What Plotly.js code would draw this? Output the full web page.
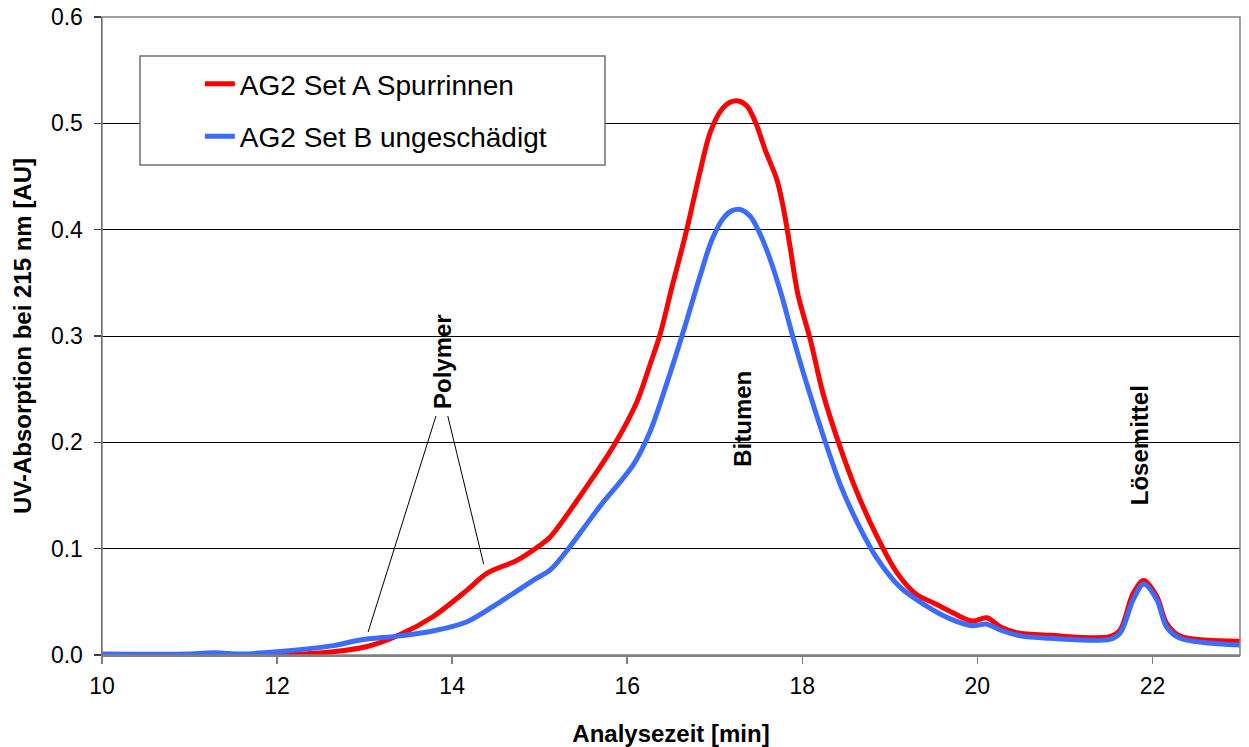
<!DOCTYPE html>
<html>
<head>
<meta charset="utf-8">
<script src="https://cdn.plot.ly/plotly-3.0.1.min.js"></script>
<style>html,body{margin:0;padding:0;background:#fff;}#chart{width:1249px;height:747px;}</style>
</head>
<body>
<div id="chart"></div>
<script>
// Series A (red): AG2 Set A Spurrinnen
const timeA = [10, 11, 12, 12.3, 12.64, 13.03, 13.4, 13.78, 14.17, 14.4, 14.74, 15.0, 15.12, 15.5, 15.84, 16.11, 16.26, 16.37, 16.52, 16.68, 16.83, 16.95, 17.08, 17.18, 17.27, 17.37, 17.47, 17.58, 17.71, 17.78, 17.86, 17.95, 18.09, 18.24, 18.43, 18.62, 18.85, 19.08, 19.31, 19.5, 19.69, 19.94, 20.11, 20.26, 20.45, 20.83, 21.51, 21.63, 21.78, 21.9, 22.05, 22.16, 22.31, 23];
const absA  = [0, 0, 0, 0.001, 0.003, 0.008, 0.019, 0.036, 0.061, 0.077, 0.089, 0.103, 0.111, 0.154, 0.196, 0.238, 0.273, 0.300, 0.349, 0.400, 0.454, 0.492, 0.513, 0.520, 0.521, 0.516, 0.500, 0.474, 0.447, 0.422, 0.384, 0.339, 0.297, 0.245, 0.196, 0.154, 0.112, 0.0775, 0.0566, 0.049, 0.041, 0.032, 0.035, 0.0266, 0.021, 0.0185, 0.0172, 0.0235, 0.058, 0.070, 0.055, 0.030, 0.018, 0.013];

// Series B (blue): AG2 Set B ungeschädigt
const timeB = [10, 11, 11.3, 11.6, 12, 12.64, 12.95, 13.4, 13.78, 14.17, 14.55, 14.93, 15.12, 15.31, 15.5, 15.69, 16.07, 16.26, 16.45, 16.64, 16.83, 16.97, 17.1, 17.2, 17.29, 17.4, 17.5, 17.62, 17.75, 17.9, 18.05, 18.24, 18.43, 18.62, 18.85, 19.12, 19.42, 19.69, 19.94, 20.11, 20.26, 20.49, 20.83, 21.51, 21.63, 21.78, 21.9, 22.05, 22.16, 22.31, 23];
const absB  = [0.001, 0.001, 0.002, 0.001, 0.003, 0.0088, 0.0141, 0.018, 0.0226, 0.0313, 0.050, 0.0705, 0.080, 0.098, 0.119, 0.140, 0.179, 0.210, 0.255, 0.304, 0.356, 0.391, 0.411, 0.418, 0.419, 0.413, 0.399, 0.375, 0.342, 0.297, 0.255, 0.206, 0.161, 0.126, 0.0914, 0.0636, 0.046, 0.034, 0.0276, 0.029, 0.0235, 0.018, 0.0157, 0.0147, 0.0206, 0.052, 0.0668, 0.052, 0.0266, 0.016, 0.0094];

const seriesNames = ["AG2 Set A Spurrinnen", "AG2 Set B ungeschädigt"];

// Peak labels
const peakLabels = ["Polymer", "Bitumen", "Lösemittel"];
const peakLabelX = [13.89, 17.32, 21.86];
const peakLabelY = [0.276, 0.222, 0.1975];

// Leader lines from "Polymer" label [x0, y0, x1, y1]
const leaderLines = [[13.04, 0.0216, 13.815, 0.2248], [13.95, 0.2248, 14.36, 0.0856]];

const xTickVals = [10, 12, 14, 16, 18, 20, 22];
const yTickVals = [0, 0.1, 0.2, 0.3, 0.4, 0.5, 0.6];

const FONT = "Liberation Sans, Arial, sans-serif";

const traces = [
  {x: timeA, y: absA, name: seriesNames[0], type: "scatter", mode: "lines",
   line: {color: "#FF0000", width: 5, shape: "spline", smoothing: 0.9}, legendgroup: "a"},
  {x: timeB, y: absB, name: seriesNames[1], type: "scatter", mode: "lines",
   line: {color: "#3B6BFF", width: 5, shape: "spline", smoothing: 0.9}, legendgroup: "b"}
];

const shapes = [
  // plot area border (top/right)
  {type: "rect", xref: "paper", yref: "paper", x0: 0, y0: 0, x1: 1, y1: 1,
   line: {color: "#808080", width: 1.5}, layer: "above"},
  // legend box
  {type: "rect", xref: "paper", yref: "paper", x0: 0.0334, x1: 0.442, y0: 0.768, y1: 0.9389,
   line: {color: "#707070", width: 1.5}, fillcolor: "#ffffff", layer: "above"}
];
leaderLines.forEach(l => shapes.push({type: "line", xref: "x", yref: "y",
  x0: l[0], y0: l[1], x1: l[2], y1: l[3], line: {color: "#000000", width: 1}, layer: "above"}));

const annotations = peakLabels.map((t, i) => ({
  x: peakLabelX[i], y: peakLabelY[i], xref: "x", yref: "y", text: t, showarrow: false,
  textangle: -90, font: {family: FONT, size: 24, color: "#000", weight: "bold"}
}));

const layout = {
  width: 1249, height: 747,
  margin: {l: 102, r: 9, t: 17, b: 92},
  paper_bgcolor: "#fff", plot_bgcolor: "#fff",
  font: {family: FONT, color: "#000"},
  showlegend: true,
  legend: {x: 0.086, xanchor: "left", y: 0.934, yanchor: "top",
           bgcolor: "rgba(0,0,0,0)", borderwidth: 0,
           font: {family: FONT, size: 28, color: "#000"}, tracegroupgap: 13},
  xaxis: {range: [10, 23], tickvals: xTickVals, ticktext: xTickVals.map(String),
          ticks: "outside", ticklen: 7, tickcolor: "#808080", tickwidth: 1.5,
          showline: true, linecolor: "#808080", linewidth: 1.5, showgrid: false, zeroline: false,
          ticklabelstandoff: 3,
          tickfont: {family: FONT, size: 23, color: "#000"},
          title: {text: "Analysezeit [min]", font: {family: FONT, size: 24, color: "#000", weight: "bold"}, standoff: 28}},
  yaxis: {range: [0, 0.6], tickvals: yTickVals, ticktext: yTickVals.map(v => v.toFixed(1)),
          ticks: "outside", ticklen: 7, tickcolor: "#404040", tickwidth: 1.5,
          showline: true, linecolor: "#404040", linewidth: 1.5,
          showgrid: true, gridcolor: "#000000", gridwidth: 1, zeroline: false,
          ticklabelstandoff: 6,
          tickfont: {family: FONT, size: 23, color: "#000"},
          title: {text: "UV-Absorption bei 215 nm [AU]", font: {family: FONT, size: 24, color: "#000", weight: "bold"}, standoff: 12}},
  shapes: shapes,
  annotations: annotations
};

Plotly.newPlot("chart", traces, layout, {displayModeBar: false, staticPlot: true});
</script>
</body>
</html>
